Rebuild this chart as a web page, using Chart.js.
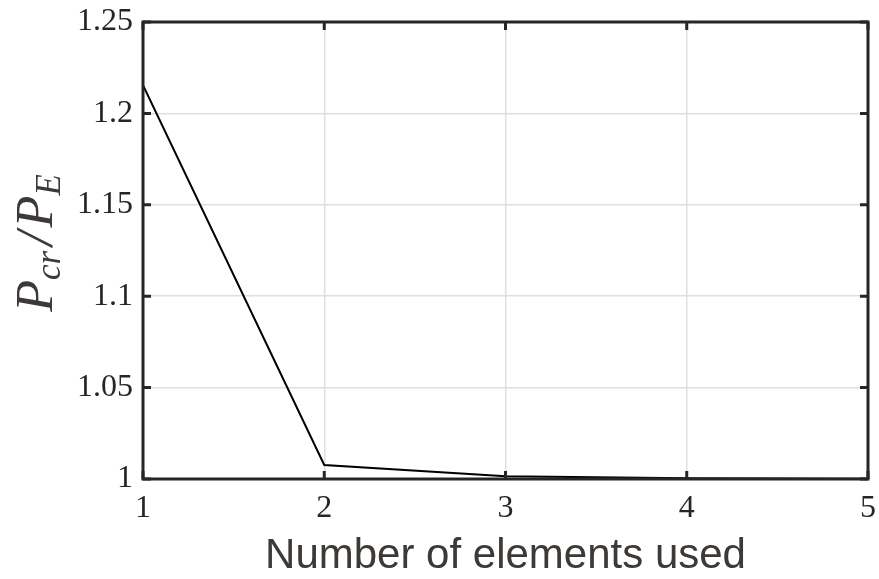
<!DOCTYPE html>
<html>
<head>
<meta charset="utf-8">
<script src="https://cdn.jsdelivr.net/npm/chart.js@4"></script>
<style>
  html, body { margin: 0; padding: 0; background: #fff; }
  #wrap { width: 879px; height: 579px; }
</style>
</head>
<body>
<div id="wrap"><canvas id="bucklingChart" width="879" height="579"></canvas></div>
<script>
const elements = [1, 2, 3, 4, 5];
const loadRatio = [1.2155, 1.0077, 1.0015, 1.0004, 1.0001];
const yTicks = [1, 1.05, 1.1, 1.15, 1.2, 1.25];
const yTickLabels = ['1', '1.05', '1.1', '1.15', '1.2', '1.25'];
const xTitle = 'Number of elements used';

const frameColor = '#262626';

// box, inward ticks and axis titles (MATLAB style)
const framePlugin = {
    id: 'frame',
    afterDraw(chart) {
        const { ctx, chartArea: a, scales } = chart;
        ctx.save();
        ctx.strokeStyle = frameColor;
        ctx.lineWidth = 3;
        ctx.strokeRect(a.left, a.top, a.right - a.left, a.bottom - a.top);

        const tl = 8;
        elements.forEach(v => {
            const x = scales.x.getPixelForValue(v);
            ctx.beginPath();
            ctx.moveTo(x, a.bottom); ctx.lineTo(x, a.bottom - tl);
            ctx.moveTo(x, a.top); ctx.lineTo(x, a.top + tl);
            ctx.stroke();
        });
        yTicks.forEach(v => {
            const y = scales.y.getPixelForValue(v);
            ctx.beginPath();
            ctx.moveTo(a.left, y); ctx.lineTo(a.left + tl, y);
            ctx.moveTo(a.right, y); ctx.lineTo(a.right - tl, y);
            ctx.stroke();
        });

        // x title
        ctx.fillStyle = '#3d3936';
        ctx.font = '42px "Liberation Sans", Arial, sans-serif';
        ctx.textAlign = 'center';
        ctx.textBaseline = 'alphabetic';
        ctx.fillText(xTitle, (a.left + a.right) / 2, 568);

        // y title P_cr / P_E
        ctx.translate(52, 243);
        ctx.rotate(-Math.PI / 2);
        const big = 'italic 52px "Liberation Serif", "Times New Roman", serif';
        const small = 'italic 35px "Liberation Serif", "Times New Roman", serif';
        const parts = [
            { t: 'P', f: big, dy: 0, gap: 0 },
            { t: 'cr', f: small, dy: 8, gap: 5 },
            { t: '/', f: big, dy: 0, gap: 4 },
            { t: 'P', f: big, dy: 0, gap: 0 },
            { t: 'E', f: small, dy: 8, gap: 0 },
        ];
        let w = 0;
        parts.forEach(p => { ctx.font = p.f; w += ctx.measureText(p.t).width + p.gap; });
        let x = -w / 2;
        ctx.textAlign = 'left';
        parts.forEach(p => {
            ctx.font = p.f;
            ctx.fillText(p.t, x, p.dy);
            x += ctx.measureText(p.t).width + p.gap;
        });
        ctx.restore();
    }
};

const tickFont = { family: '"Liberation Serif", "Times New Roman", serif', size: 32 };

new Chart(document.getElementById('bucklingChart'), {
    type: 'line',
    data: {
        datasets: [{
            data: elements.map((e, i) => ({ x: e, y: loadRatio[i] })),
            borderColor: '#000',
            borderWidth: 2,
            pointRadius: 0,
            tension: 0,
            fill: false,
        }],
    },
    options: {
        responsive: false,
        animation: false,
        layout: { padding: { top: 22, right: 11, left: 0, bottom: 0 } },
        plugins: { legend: { display: false }, tooltip: { enabled: false } },
        scales: {
            x: {
                type: 'linear',
                min: 1,
                max: 5,
                afterBuildTicks: s => { s.ticks = elements.map(v => ({ value: v })); },
                afterFit: s => { s.height = 100; s.paddingLeft = 0; s.paddingRight = 0; },
                ticks: { font: tickFont, color: '#262626', padding: 10, maxRotation: 0 },
                grid: { color: '#dfdfdf', lineWidth: 1.5, drawTicks: false },
                border: { display: false },
            },
            y: {
                min: 1,
                max: 1.25,
                afterBuildTicks: s => { s.ticks = yTicks.map(v => ({ value: v })); },
                afterFit: s => { s.width = 143; s.paddingTop = 0; s.paddingBottom = 0; },
                ticks: {
                    font: tickFont,
                    color: '#262626',
                    padding: 10,
                    callback: (value, index) => yTickLabels[index],
                },
                grid: { color: '#dfdfdf', lineWidth: 1.5, drawTicks: false },
                border: { display: false },
            },
        },
    },
    plugins: [framePlugin],
});
</script>
</body>
</html>
